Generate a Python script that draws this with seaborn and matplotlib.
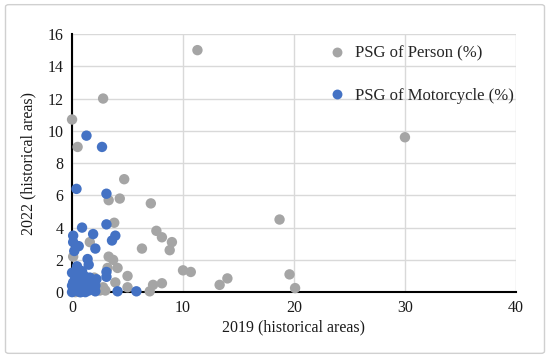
import numpy as np
import pandas as pd
import matplotlib
matplotlib.use('Agg')
import matplotlib.pyplot as plt
from matplotlib.patches import FancyBboxPatch
import seaborn as sns

# PSG of Person (%) - 2019 vs 2022 (historical areas)
person_2019 = [11.3, 30.0, 0.0, 2.8, 0.5, 4.7, 3.3, 4.3, 7.1, 3.8, 7.6, 8.1, 9.0, 8.8,
               6.3, 1.6, 0.1, 3.3, 3.7, 4.1, 5.0, 10.0, 10.7, 14.0, 13.3, 8.1, 7.3,
               7.0, 5.0, 18.7, 19.6, 20.1, 2.8, 3.9, 3.2, 2.5, 1.0, 2.0, 3.0, 0.3]
person_2022 = [15.0, 9.6, 10.7, 12.0, 9.0, 7.0, 5.7, 5.8, 5.5, 4.3, 3.8, 3.4, 3.1, 2.6,
               2.7, 3.1, 2.2, 2.2, 2.0, 1.5, 1.0, 1.35, 1.25, 0.85, 0.45, 0.55, 0.45,
               0.05, 0.3, 4.5, 1.1, 0.25, 0.3, 0.6, 1.5, 0.1, 0.4, 0.9, 0.1, 0.0]

# PSG of Motorcycle (%)
moto_2019 = [1.3, 2.7, 0.4, 3.1, 3.1, 0.9, 0.1, 1.9, 3.9, 3.6, 0.1, 0.6, 0.2, 2.1,
             1.4, 1.5, 0.45, 3.1, 3.1, 4.1, 5.8, 2.1, 2.1,
             0.0, 0.2, 0.5, 0.8, 0.3, 0.0, 0.6, 1.0, 1.3, 0.1, 0.9, 1.5, 2.0, 2.2,
             0.4, 1.2, 0.0, 0.7, 1.8, 0.3, 1.1, 0.5, 0.2, 1.6, 0.8]
moto_2022 = [9.7, 9.0, 6.4, 6.1, 4.2, 4.0, 3.5, 3.6, 3.5, 3.2, 3.1, 2.85, 2.55, 2.7,
             2.05, 1.7, 1.6, 1.25, 0.95, 0.05, 0.05, 0.4, 0.05,
             0.0, 0.3, 0.1, 0.5, 0.8, 1.2, 1.0, 0.2, 0.7, 0.6, 1.3, 0.1, 0.3, 0.8,
             1.4, 0.0, 0.4, 0.0, 0.5, 0.2, 1.0, 0.6, 1.1, 0.9, 0.0]

labels = ['PSG of Person (%)', 'PSG of Motorcycle (%)']
colors = ['#A5A5A5', '#4472C4']

df = pd.DataFrame({
    'x': person_2019 + moto_2019,
    'y': person_2022 + moto_2022,
    'series': [labels[0]] * len(person_2019) + [labels[1]] * len(moto_2019),
})

sns.set_style('white')
plt.rcParams['font.family'] = ['Liberation Serif', 'DejaVu Serif']

fig = plt.figure(figsize=(5.5, 3.58), dpi=100)
ax = fig.add_axes([0.131, 0.184, 0.807, 0.721])

# outer border
fig.patches.append(FancyBboxPatch((0.01, 0.013), 0.98, 0.974, boxstyle='round,pad=0,rounding_size=0.006',
                                  transform=fig.transFigure, fill=False, edgecolor='#D0D0D0', linewidth=1.0))

sns.scatterplot(data=df, x='x', y='y', hue='series', palette=dict(zip(labels, colors)),
                s=56, linewidth=0, alpha=1, ax=ax, zorder=3, clip_on=False)

ax.set_xlim(0, 40)
ax.set_ylim(0, 16)
ax.set_xticks(np.arange(0, 41, 10))
ax.set_yticks(np.arange(0, 17, 2))
ax.grid(True, color='#D9D9D9', linewidth=1.0)
ax.set_axisbelow(True)
for s in ['top', 'right']:
    ax.spines[s].set_visible(False)
for s in ['left', 'bottom']:
    ax.spines[s].set_color('black')
    ax.spines[s].set_linewidth(1.5)
    ax.spines[s].set_zorder(2)
ax.tick_params(length=0, labelsize=11.5, colors='#1a1a1a', pad=6)
ax.set_xlabel('2019 (historical areas)', fontsize=11.5, color='#1a1a1a', labelpad=2)
ax.set_ylabel('2022 (historical areas)', fontsize=11.5, color='#1a1a1a', labelpad=8)

handles, _ = ax.get_legend_handles_labels()
ax.legend(handles=handles, labels=labels, loc='upper left', bbox_to_anchor=(0.532, 1.0),
          frameon=False, fontsize=12, labelspacing=1.55, handletextpad=0.1,
          markerscale=0.95, borderaxespad=0.3)

fig.savefig('out.png', dpi=100)
